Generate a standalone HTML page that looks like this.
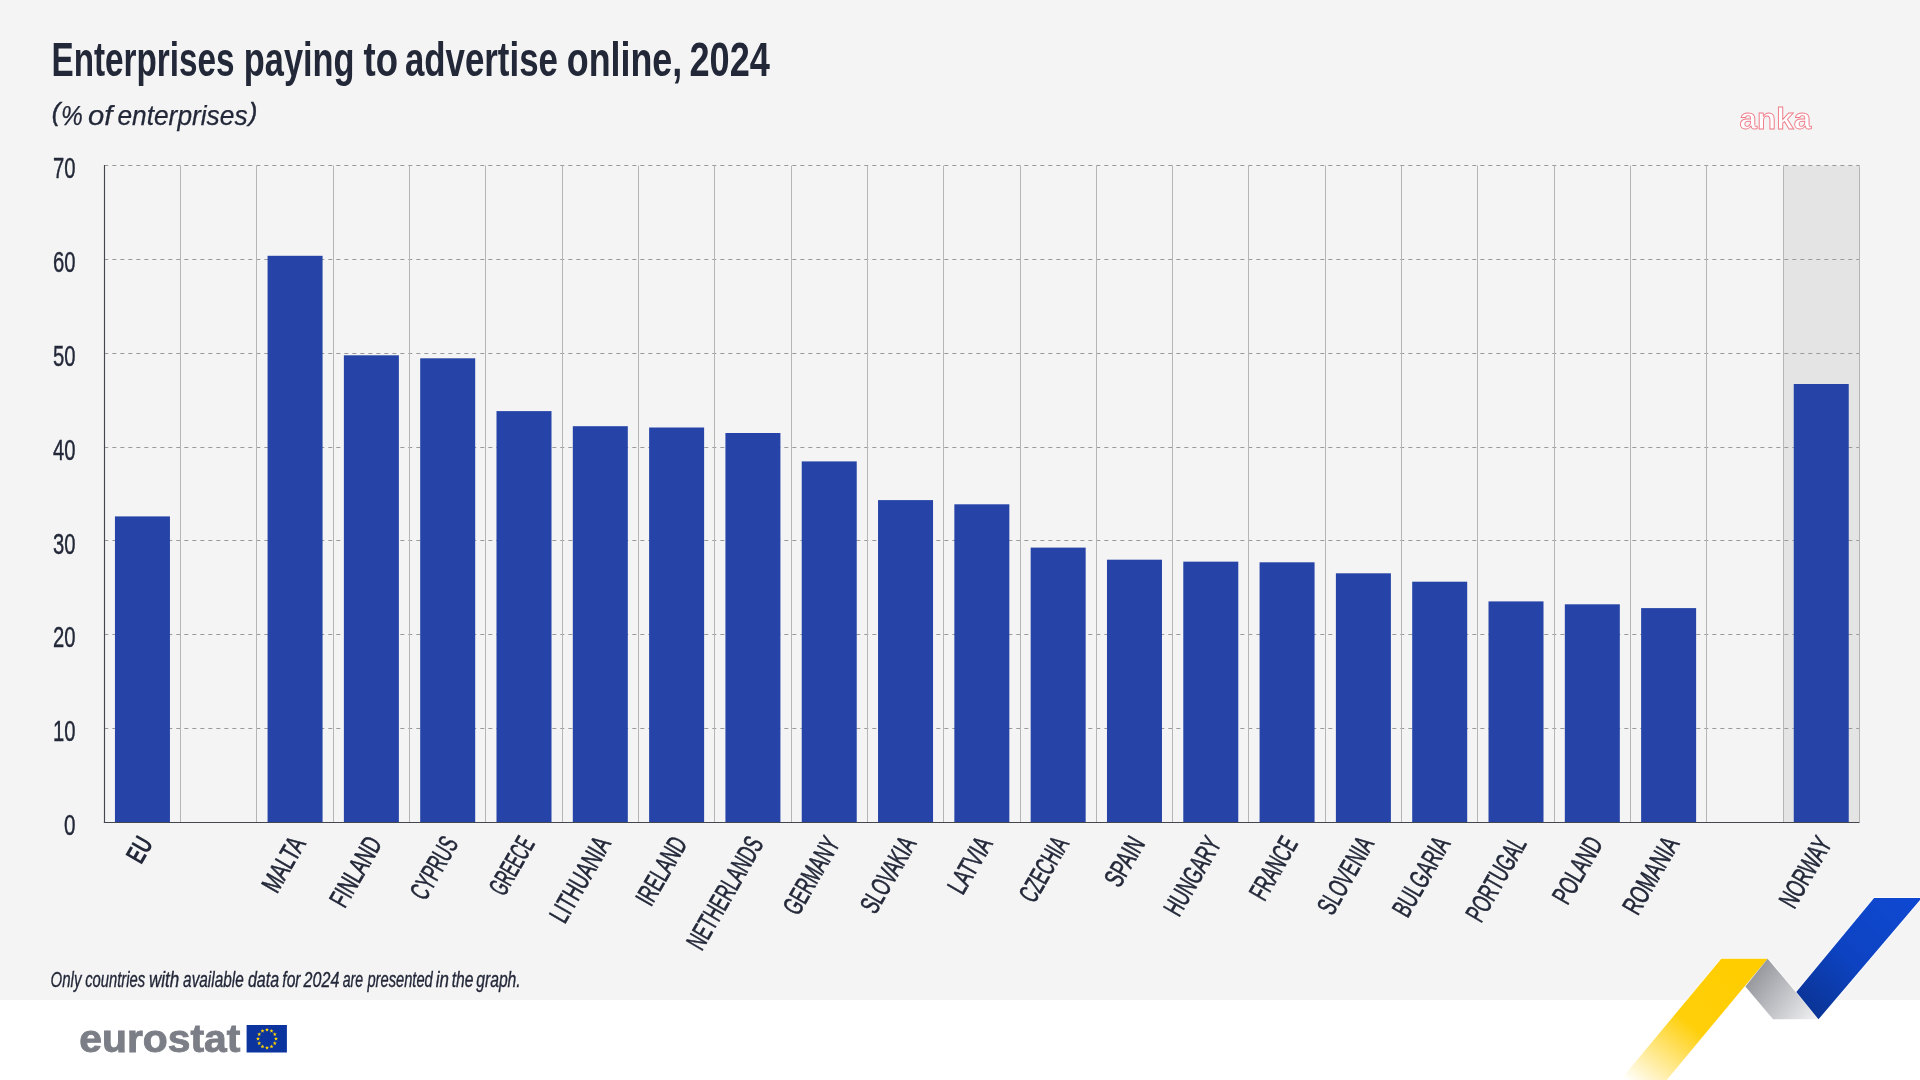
<!DOCTYPE html><html><head><meta charset="utf-8"><style>html,body{margin:0;padding:0;width:1920px;height:1080px;overflow:hidden;background:#f4f4f4}svg{display:block;will-change:transform}text{font-family:"Liberation Sans",Arial,sans-serif}</style></head><body>
<svg width="1920" height="1080" viewBox="0 0 1920 1080">
<defs><linearGradient id="gy" x1="1720" y1="960" x2="1625" y2="1080" gradientUnits="userSpaceOnUse"><stop offset="0" stop-color="#ffcd00"/><stop offset="0.45" stop-color="#ffcf0a"/><stop offset="1" stop-color="#ffffff"/></linearGradient><linearGradient id="gg" x1="1752" y1="975" x2="1815" y2="1022" gradientUnits="userSpaceOnUse"><stop offset="0" stop-color="#95979d"/><stop offset="1" stop-color="#f2f2f4"/></linearGradient><linearGradient id="gb" x1="1900" y1="900" x2="1800" y2="1015" gradientUnits="userSpaceOnUse"><stop offset="0" stop-color="#0f48d0"/><stop offset="0.5" stop-color="#0d43c2"/><stop offset="1" stop-color="#0a3290"/></linearGradient></defs>
<rect x="0" y="0" width="1920" height="1000" fill="#f4f4f4"/>
<rect x="0" y="1000" width="1920" height="80" fill="#ffffff"/>
<text x="51.50" y="75.9" font-size="48.8" font-weight="bold" fill="#232839" textLength="183.00" lengthAdjust="spacingAndGlyphs">Enterprises</text>
<text x="243.80" y="75.9" font-size="48.8" font-weight="bold" fill="#232839" textLength="110.80" lengthAdjust="spacingAndGlyphs">paying</text>
<text x="363.60" y="75.9" font-size="48.8" font-weight="bold" fill="#232839" textLength="34.40" lengthAdjust="spacingAndGlyphs">to</text>
<text x="404.90" y="75.9" font-size="48.8" font-weight="bold" fill="#232839" textLength="153.00" lengthAdjust="spacingAndGlyphs">advertise</text>
<text x="566.80" y="75.9" font-size="48.8" font-weight="bold" fill="#232839" textLength="115.40" lengthAdjust="spacingAndGlyphs">online,</text>
<text x="689.50" y="75.9" font-size="48.8" font-weight="bold" fill="#232839" textLength="80.40" lengthAdjust="spacingAndGlyphs">2024</text>
<text x="51.65" y="121.4" font-size="25.1" font-style="italic" fill="#232839" stroke="#232839" stroke-width="0.45">(</text>
<text x="60.90" y="124.6" font-size="27" font-style="italic" fill="#232839" stroke="#232839" stroke-width="0.25" textLength="21.80" lengthAdjust="spacingAndGlyphs">%</text>
<text x="87.90" y="124.6" font-size="27" font-style="italic" fill="#232839" stroke="#232839" stroke-width="0.25" textLength="24.42" lengthAdjust="spacingAndGlyphs">of</text>
<text x="117.40" y="124.6" font-size="27" font-style="italic" fill="#232839" stroke="#232839" stroke-width="0.25" textLength="130.20" lengthAdjust="spacingAndGlyphs">enterprises</text>
<text x="249.10" y="121.4" font-size="25.1" font-style="italic" fill="#232839" stroke="#232839" stroke-width="0.45">)</text>
<rect x="1783.09" y="165.62" width="76.31" height="656.88" fill="#e4e4e4"/>
<line x1="104.3" y1="728.5" x2="1859.4" y2="728.5" stroke="#9a9a9a" stroke-width="1" stroke-dasharray="4 4"/>
<line x1="104.3" y1="634.5" x2="1859.4" y2="634.5" stroke="#9a9a9a" stroke-width="1" stroke-dasharray="4 4"/>
<line x1="104.3" y1="540.5" x2="1859.4" y2="540.5" stroke="#9a9a9a" stroke-width="1" stroke-dasharray="4 4"/>
<line x1="104.3" y1="447.5" x2="1859.4" y2="447.5" stroke="#9a9a9a" stroke-width="1" stroke-dasharray="4 4"/>
<line x1="104.3" y1="353.5" x2="1859.4" y2="353.5" stroke="#9a9a9a" stroke-width="1" stroke-dasharray="4 4"/>
<line x1="104.3" y1="259.5" x2="1859.4" y2="259.5" stroke="#9a9a9a" stroke-width="1" stroke-dasharray="4 4"/>
<line x1="104.3" y1="165.5" x2="1859.4" y2="165.5" stroke="#9a9a9a" stroke-width="1" stroke-dasharray="4 4"/>
<line x1="180.5" y1="165.6" x2="180.5" y2="822.5" stroke="#b5b5b5" stroke-width="1"/>
<line x1="256.5" y1="165.6" x2="256.5" y2="822.5" stroke="#b5b5b5" stroke-width="1"/>
<line x1="333.5" y1="165.6" x2="333.5" y2="822.5" stroke="#b5b5b5" stroke-width="1"/>
<line x1="409.5" y1="165.6" x2="409.5" y2="822.5" stroke="#b5b5b5" stroke-width="1"/>
<line x1="485.5" y1="165.6" x2="485.5" y2="822.5" stroke="#b5b5b5" stroke-width="1"/>
<line x1="562.5" y1="165.6" x2="562.5" y2="822.5" stroke="#b5b5b5" stroke-width="1"/>
<line x1="638.5" y1="165.6" x2="638.5" y2="822.5" stroke="#b5b5b5" stroke-width="1"/>
<line x1="714.5" y1="165.6" x2="714.5" y2="822.5" stroke="#b5b5b5" stroke-width="1"/>
<line x1="791.5" y1="165.6" x2="791.5" y2="822.5" stroke="#b5b5b5" stroke-width="1"/>
<line x1="867.5" y1="165.6" x2="867.5" y2="822.5" stroke="#b5b5b5" stroke-width="1"/>
<line x1="943.5" y1="165.6" x2="943.5" y2="822.5" stroke="#b5b5b5" stroke-width="1"/>
<line x1="1020.5" y1="165.6" x2="1020.5" y2="822.5" stroke="#b5b5b5" stroke-width="1"/>
<line x1="1096.5" y1="165.6" x2="1096.5" y2="822.5" stroke="#b5b5b5" stroke-width="1"/>
<line x1="1172.5" y1="165.6" x2="1172.5" y2="822.5" stroke="#b5b5b5" stroke-width="1"/>
<line x1="1248.5" y1="165.6" x2="1248.5" y2="822.5" stroke="#b5b5b5" stroke-width="1"/>
<line x1="1325.5" y1="165.6" x2="1325.5" y2="822.5" stroke="#b5b5b5" stroke-width="1"/>
<line x1="1401.5" y1="165.6" x2="1401.5" y2="822.5" stroke="#b5b5b5" stroke-width="1"/>
<line x1="1477.5" y1="165.6" x2="1477.5" y2="822.5" stroke="#b5b5b5" stroke-width="1"/>
<line x1="1554.5" y1="165.6" x2="1554.5" y2="822.5" stroke="#b5b5b5" stroke-width="1"/>
<line x1="1630.5" y1="165.6" x2="1630.5" y2="822.5" stroke="#b5b5b5" stroke-width="1"/>
<line x1="1706.5" y1="165.6" x2="1706.5" y2="822.5" stroke="#b5b5b5" stroke-width="1"/>
<line x1="1783.5" y1="165.6" x2="1783.5" y2="822.5" stroke="#b5b5b5" stroke-width="1"/>
<line x1="1859.5" y1="165.6" x2="1859.5" y2="822.5" stroke="#b5b5b5" stroke-width="1"/>
<rect x="114.95" y="516.40" width="55" height="306.10" fill="#2644a7"/>
<rect x="267.57" y="255.80" width="55" height="566.70" fill="#2644a7"/>
<rect x="343.88" y="355.30" width="55" height="467.20" fill="#2644a7"/>
<rect x="420.19" y="358.30" width="55" height="464.20" fill="#2644a7"/>
<rect x="496.50" y="411.10" width="55" height="411.40" fill="#2644a7"/>
<rect x="572.81" y="426.20" width="55" height="396.30" fill="#2644a7"/>
<rect x="649.12" y="427.50" width="55" height="395.00" fill="#2644a7"/>
<rect x="725.42" y="433.00" width="55" height="389.50" fill="#2644a7"/>
<rect x="801.73" y="461.40" width="55" height="361.10" fill="#2644a7"/>
<rect x="878.04" y="500.10" width="55" height="322.40" fill="#2644a7"/>
<rect x="954.35" y="504.30" width="55" height="318.20" fill="#2644a7"/>
<rect x="1030.66" y="547.60" width="55" height="274.90" fill="#2644a7"/>
<rect x="1106.97" y="559.70" width="55" height="262.80" fill="#2644a7"/>
<rect x="1183.28" y="561.65" width="55" height="260.85" fill="#2644a7"/>
<rect x="1259.58" y="562.30" width="55" height="260.20" fill="#2644a7"/>
<rect x="1335.89" y="573.30" width="55" height="249.20" fill="#2644a7"/>
<rect x="1412.20" y="581.70" width="55" height="240.80" fill="#2644a7"/>
<rect x="1488.51" y="601.40" width="55" height="221.10" fill="#2644a7"/>
<rect x="1564.82" y="604.30" width="55" height="218.20" fill="#2644a7"/>
<rect x="1641.13" y="608.10" width="55" height="214.40" fill="#2644a7"/>
<rect x="1793.75" y="384.00" width="55" height="438.50" fill="#2644a7"/>
<line x1="104.5" y1="165.0" x2="104.5" y2="823.1" stroke="#44474f" stroke-width="1.15"/>
<line x1="103.9" y1="822.5" x2="1859.4" y2="822.5" stroke="#44474f" stroke-width="1.15"/>
<text x="75.6" y="835.1" font-size="28.6" fill="#232839" stroke="#232839" stroke-width="0.4" text-anchor="end" textLength="11.5" lengthAdjust="spacingAndGlyphs">0</text>
<text x="75.6" y="741.3" font-size="28.6" fill="#232839" stroke="#232839" stroke-width="0.4" text-anchor="end" textLength="22.5" lengthAdjust="spacingAndGlyphs">10</text>
<text x="75.6" y="647.4" font-size="28.6" fill="#232839" stroke="#232839" stroke-width="0.4" text-anchor="end" textLength="22.5" lengthAdjust="spacingAndGlyphs">20</text>
<text x="75.6" y="553.6" font-size="28.6" fill="#232839" stroke="#232839" stroke-width="0.4" text-anchor="end" textLength="22.5" lengthAdjust="spacingAndGlyphs">30</text>
<text x="75.6" y="459.7" font-size="28.6" fill="#232839" stroke="#232839" stroke-width="0.4" text-anchor="end" textLength="22.5" lengthAdjust="spacingAndGlyphs">40</text>
<text x="75.6" y="365.9" font-size="28.6" fill="#232839" stroke="#232839" stroke-width="0.4" text-anchor="end" textLength="22.5" lengthAdjust="spacingAndGlyphs">50</text>
<text x="75.6" y="272.1" font-size="28.6" fill="#232839" stroke="#232839" stroke-width="0.4" text-anchor="end" textLength="22.5" lengthAdjust="spacingAndGlyphs">60</text>
<text x="75.6" y="178.2" font-size="28.6" fill="#232839" stroke="#232839" stroke-width="0.4" text-anchor="end" textLength="22.5" lengthAdjust="spacingAndGlyphs">70</text>
<text transform="translate(153.75,843.50) rotate(-60)" x="0" y="0" font-size="27.5" fill="#232839" stroke="#232839" stroke-width="0.65" text-anchor="end" font-weight="bold" stroke-opacity="0" textLength="25.2" lengthAdjust="spacingAndGlyphs">EU</text>
<text transform="translate(306.37,843.50) rotate(-60)" x="0" y="0" font-size="27.5" fill="#232839" stroke="#232839" stroke-width="0.65" text-anchor="end" textLength="58.9" lengthAdjust="spacingAndGlyphs">MALTA</text>
<text transform="translate(382.68,843.50) rotate(-60)" x="0" y="0" font-size="27.5" fill="#232839" stroke="#232839" stroke-width="0.65" text-anchor="end" textLength="75.8" lengthAdjust="spacingAndGlyphs">FINLAND</text>
<text transform="translate(458.99,843.50) rotate(-60)" x="0" y="0" font-size="27.5" fill="#232839" stroke="#232839" stroke-width="0.65" text-anchor="end" textLength="67.3" lengthAdjust="spacingAndGlyphs">CYPRUS</text>
<text transform="translate(535.30,843.50) rotate(-60)" x="0" y="0" font-size="27.5" fill="#232839" stroke="#232839" stroke-width="0.65" text-anchor="end" textLength="62.0" lengthAdjust="spacingAndGlyphs">GREECE</text>
<text transform="translate(611.61,843.50) rotate(-60)" x="0" y="0" font-size="27.5" fill="#232839" stroke="#232839" stroke-width="0.65" text-anchor="end" textLength="93.8" lengthAdjust="spacingAndGlyphs">LITHUANIA</text>
<text transform="translate(687.92,843.50) rotate(-60)" x="0" y="0" font-size="27.5" fill="#232839" stroke="#232839" stroke-width="0.65" text-anchor="end" textLength="74.0" lengthAdjust="spacingAndGlyphs">IRELAND</text>
<text transform="translate(764.22,843.50) rotate(-60)" x="0" y="0" font-size="27.5" fill="#232839" stroke="#232839" stroke-width="0.65" text-anchor="end" textLength="125.1" lengthAdjust="spacingAndGlyphs">NETHERLANDS</text>
<text transform="translate(840.53,843.50) rotate(-60)" x="0" y="0" font-size="27.5" fill="#232839" stroke="#232839" stroke-width="0.65" text-anchor="end" textLength="84.6" lengthAdjust="spacingAndGlyphs">GERMANY</text>
<text transform="translate(916.84,843.50) rotate(-60)" x="0" y="0" font-size="27.5" fill="#232839" stroke="#232839" stroke-width="0.65" text-anchor="end" textLength="82.9" lengthAdjust="spacingAndGlyphs">SLOVAKIA</text>
<text transform="translate(993.15,843.50) rotate(-60)" x="0" y="0" font-size="27.5" fill="#232839" stroke="#232839" stroke-width="0.65" text-anchor="end" textLength="60.6" lengthAdjust="spacingAndGlyphs">LATVIA</text>
<text transform="translate(1069.46,843.50) rotate(-60)" x="0" y="0" font-size="27.5" fill="#232839" stroke="#232839" stroke-width="0.65" text-anchor="end" textLength="70.2" lengthAdjust="spacingAndGlyphs">CZECHIA</text>
<text transform="translate(1145.77,843.50) rotate(-60)" x="0" y="0" font-size="27.5" fill="#232839" stroke="#232839" stroke-width="0.65" text-anchor="end" textLength="52.4" lengthAdjust="spacingAndGlyphs">SPAIN</text>
<text transform="translate(1222.08,843.50) rotate(-60)" x="0" y="0" font-size="27.5" fill="#232839" stroke="#232839" stroke-width="0.65" text-anchor="end" textLength="86.1" lengthAdjust="spacingAndGlyphs">HUNGARY</text>
<text transform="translate(1298.38,843.50) rotate(-60)" x="0" y="0" font-size="27.5" fill="#232839" stroke="#232839" stroke-width="0.65" text-anchor="end" textLength="67.8" lengthAdjust="spacingAndGlyphs">FRANCE</text>
<text transform="translate(1374.69,843.50) rotate(-60)" x="0" y="0" font-size="27.5" fill="#232839" stroke="#232839" stroke-width="0.65" text-anchor="end" textLength="84.2" lengthAdjust="spacingAndGlyphs">SLOVENIA</text>
<text transform="translate(1451.00,843.50) rotate(-60)" x="0" y="0" font-size="27.5" fill="#232839" stroke="#232839" stroke-width="0.65" text-anchor="end" textLength="87.1" lengthAdjust="spacingAndGlyphs">BULGARIA</text>
<text transform="translate(1527.31,843.50) rotate(-60)" x="0" y="0" font-size="27.5" fill="#232839" stroke="#232839" stroke-width="0.65" text-anchor="end" textLength="92.6" lengthAdjust="spacingAndGlyphs">PORTUGAL</text>
<text transform="translate(1603.62,843.50) rotate(-60)" x="0" y="0" font-size="27.5" fill="#232839" stroke="#232839" stroke-width="0.65" text-anchor="end" textLength="72.2" lengthAdjust="spacingAndGlyphs">POLAND</text>
<text transform="translate(1679.93,843.50) rotate(-60)" x="0" y="0" font-size="27.5" fill="#232839" stroke="#232839" stroke-width="0.65" text-anchor="end" textLength="84.3" lengthAdjust="spacingAndGlyphs">ROMANIA</text>
<text transform="translate(1832.55,843.50) rotate(-60)" x="0" y="0" font-size="27.5" fill="#232839" stroke="#232839" stroke-width="0.65" text-anchor="end" textLength="76.7" lengthAdjust="spacingAndGlyphs">NORWAY</text>
<text x="50.60" y="986.5" font-size="21.5" font-style="italic" fill="#232839" stroke="#232839" stroke-width="0.35" textLength="30.80" lengthAdjust="spacingAndGlyphs">Only</text>
<text x="85.20" y="986.5" font-size="21.5" font-style="italic" fill="#232839" stroke="#232839" stroke-width="0.35" textLength="60.00" lengthAdjust="spacingAndGlyphs">countries</text>
<text x="148.90" y="986.5" font-size="21.5" font-style="italic" fill="#232839" stroke="#232839" stroke-width="0.35" textLength="30.32" lengthAdjust="spacingAndGlyphs">with</text>
<text x="183.10" y="986.5" font-size="21.5" font-style="italic" fill="#232839" stroke="#232839" stroke-width="0.35" textLength="60.60" lengthAdjust="spacingAndGlyphs">available</text>
<text x="247.90" y="986.5" font-size="21.5" font-style="italic" fill="#232839" stroke="#232839" stroke-width="0.35" textLength="31.20" lengthAdjust="spacingAndGlyphs">data</text>
<text x="282.34" y="986.5" font-size="21.5" font-style="italic" fill="#232839" stroke="#232839" stroke-width="0.35" textLength="18.20" lengthAdjust="spacingAndGlyphs">for</text>
<text x="303.60" y="986.5" font-size="21.5" font-style="italic" fill="#232839" stroke="#232839" stroke-width="0.35" textLength="35.80" lengthAdjust="spacingAndGlyphs">2024</text>
<text x="342.70" y="986.5" font-size="21.5" font-style="italic" fill="#232839" stroke="#232839" stroke-width="0.35" textLength="20.40" lengthAdjust="spacingAndGlyphs">are</text>
<text x="367.40" y="986.5" font-size="21.5" font-style="italic" fill="#232839" stroke="#232839" stroke-width="0.35" textLength="65.40" lengthAdjust="spacingAndGlyphs">presented</text>
<text x="435.70" y="986.5" font-size="21.5" font-style="italic" fill="#232839" stroke="#232839" stroke-width="0.35" textLength="13.20" lengthAdjust="spacingAndGlyphs">in</text>
<text x="451.71" y="986.5" font-size="21.5" font-style="italic" fill="#232839" stroke="#232839" stroke-width="0.35" textLength="21.79" lengthAdjust="spacingAndGlyphs">the</text>
<text x="476.20" y="986.5" font-size="21.5" font-style="italic" fill="#232839" stroke="#232839" stroke-width="0.35" textLength="44.53" lengthAdjust="spacingAndGlyphs">graph.</text>
<text x="79.3" y="1052.3" font-size="38" font-weight="bold" fill="#7b7e86" stroke="#7b7e86" stroke-width="0.9" textLength="161" lengthAdjust="spacingAndGlyphs">eurostat</text>
<rect x="246.6" y="1025" width="40.3" height="27.5" fill="#0b349f"/>
<polygon points="267.00,1027.65 267.53,1029.02 269.00,1029.10 267.86,1030.03 268.23,1031.45 267.00,1030.65 265.77,1031.45 266.14,1030.03 265.00,1029.10 266.47,1029.02" fill="#ffd200"/>
<polygon points="271.50,1028.86 272.03,1030.23 273.50,1030.31 272.36,1031.23 272.73,1032.65 271.50,1031.86 270.27,1032.65 270.64,1031.23 269.50,1030.31 270.97,1030.23" fill="#ffd200"/>
<polygon points="274.79,1032.15 275.32,1033.52 276.79,1033.60 275.65,1034.53 276.03,1035.95 274.79,1035.15 273.56,1035.95 273.94,1034.53 272.80,1033.60 274.27,1033.52" fill="#ffd200"/>
<polygon points="276.00,1036.65 276.53,1038.02 278.00,1038.10 276.86,1039.03 277.23,1040.45 276.00,1039.65 274.77,1040.45 275.14,1039.03 274.00,1038.10 275.47,1038.02" fill="#ffd200"/>
<polygon points="274.79,1041.15 275.32,1042.52 276.79,1042.60 275.65,1043.53 276.03,1044.95 274.79,1044.15 273.56,1044.95 273.94,1043.53 272.80,1042.60 274.27,1042.52" fill="#ffd200"/>
<polygon points="271.50,1044.44 272.03,1045.82 273.50,1045.90 272.36,1046.82 272.73,1048.24 271.50,1047.44 270.27,1048.24 270.64,1046.82 269.50,1045.90 270.97,1045.82" fill="#ffd200"/>
<polygon points="267.00,1045.65 267.53,1047.02 269.00,1047.10 267.86,1048.03 268.23,1049.45 267.00,1048.65 265.77,1049.45 266.14,1048.03 265.00,1047.10 266.47,1047.02" fill="#ffd200"/>
<polygon points="262.50,1044.44 263.03,1045.82 264.50,1045.90 263.36,1046.82 263.73,1048.24 262.50,1047.44 261.27,1048.24 261.64,1046.82 260.50,1045.90 261.97,1045.82" fill="#ffd200"/>
<polygon points="259.21,1041.15 259.73,1042.52 261.20,1042.60 260.06,1043.53 260.44,1044.95 259.21,1044.15 257.97,1044.95 258.35,1043.53 257.21,1042.60 258.68,1042.52" fill="#ffd200"/>
<polygon points="258.00,1036.65 258.53,1038.02 260.00,1038.10 258.86,1039.03 259.23,1040.45 258.00,1039.65 256.77,1040.45 257.14,1039.03 256.00,1038.10 257.47,1038.02" fill="#ffd200"/>
<polygon points="259.21,1032.15 259.73,1033.52 261.20,1033.60 260.06,1034.53 260.44,1035.95 259.21,1035.15 257.97,1035.95 258.35,1034.53 257.21,1033.60 258.68,1033.52" fill="#ffd200"/>
<polygon points="262.50,1028.86 263.03,1030.23 264.50,1030.31 263.36,1031.23 263.73,1032.65 262.50,1031.86 261.27,1032.65 261.64,1031.23 260.50,1030.31 261.97,1030.23" fill="#ffd200"/>
<text x="1739.6" y="129.4" font-size="30" font-weight="bold" fill="#ffffff" stroke="#f07a88" stroke-width="0.9" textLength="71.5" lengthAdjust="spacingAndGlyphs">anka</text>
<polygon points="1744.8,986.5 1733.0,1000 1757.0,1000" fill="#ffffff"/>
<g fill="none" stroke="#ffffff" stroke-width="1.6" stroke-linejoin="round" opacity="0.8"><polygon points="1721.3,958.7 1767.6,958.7 1666.7,1080 1620.4,1080"/><polygon points="1767.6,958.7 1818.5,1019.3 1773.1,1019.3 1745.4,986.5"/><polygon points="1874.1,898 1920,898 1920,900 1818.5,1019.3 1796.3,992"/></g>
<polygon points="1721.3,958.7 1767.6,958.7 1666.7,1080 1620.4,1080" fill="url(#gy)"/>
<polygon points="1767.6,958.7 1818.5,1019.3 1773.1,1019.3 1745.4,986.5" fill="url(#gg)"/>
<polygon points="1874.1,898 1920,898 1920,900 1818.5,1019.3 1796.3,992" fill="url(#gb)"/>
</svg></body></html>
